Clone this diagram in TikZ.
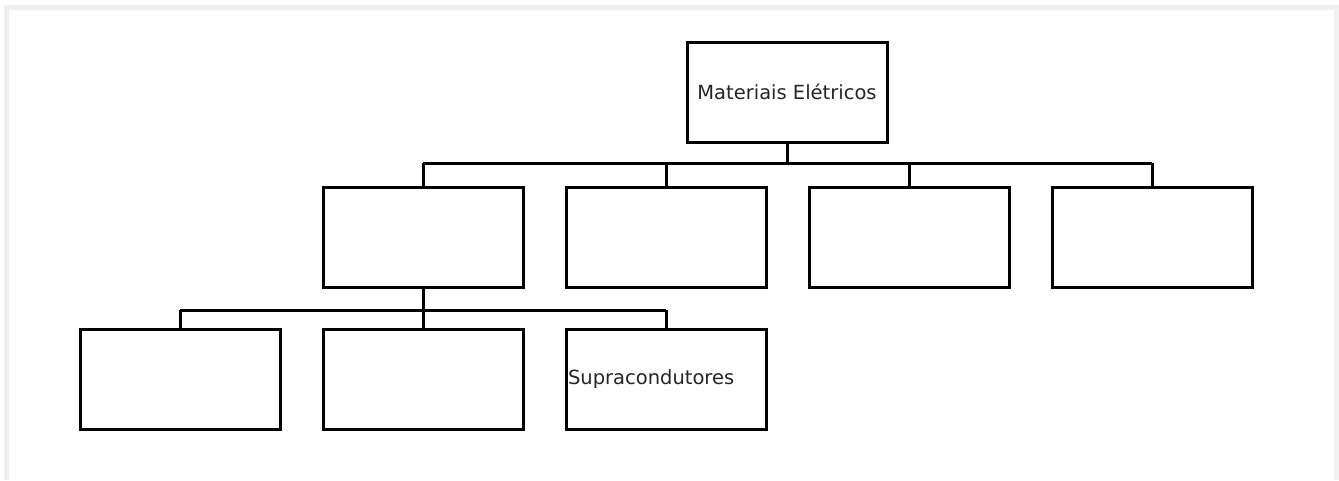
\documentclass[tikz,border=0pt]{standalone}
\usepackage{fontspec}
\setmainfont{DejaVu Sans}
\definecolor{framegray}{HTML}{F0F0F0}
\tikzset{
  orgbox/.style={draw=black, line width=3pt, minimum width=200pt, minimum height=100pt, inner sep=0pt, fill=white,
    font=\fontsize{19.5}{22}\selectfont, text=black!85},
  link/.style={draw=black, line width=3pt}
}
\begin{document}
\begin{tikzpicture}[x=1pt, y=-1pt]
  \useasboundingbox (0,0) rectangle (1339,480);
  \fill[white] (0,0) rectangle (1339,480);
  % outer frame (left, top, right)
  \draw[framegray, line width=5pt] (6,480) -- (6,7.5) -- (1336,7.5) -- (1336,480);

  % top level
  \node[orgbox] (root) at (787,92) {Materiais Elétricos};

  % second level
  \node[orgbox] (a) at (423,237) {};
  \node[orgbox] (b) at (666,237) {};
  \node[orgbox] (c) at (909,237) {};
  \node[orgbox] (d) at (1152,237) {};

  % third level
  \node[orgbox] (a1) at (180,379.5) {};
  \node[orgbox] (a2) at (423,379.5) {};
  \node[orgbox, text width=196pt, inner xsep=2pt, align=left] (a3) at (666,379.5) {Supracondutores};

  % bus lines
  \coordinate (bus1) at (0,163);
  \coordinate (bus2) at (0,310);

  \draw[link] (root.south) -- (root.south |- bus1);
  \draw[link] (a.north |- bus1) -- (d.north |- bus1);
  \foreach \n in {a,b,c,d} \draw[link] (\n.north |- bus1) -- (\n.north);

  \draw[link] (a.south) -- (a.south |- bus2);
  \draw[link] (a1.north |- bus2) -- (a3.north |- bus2);
  \foreach \n in {a1,a2,a3} \draw[link] (\n.north |- bus2) -- (\n.north);
\end{tikzpicture}
\end{document}
